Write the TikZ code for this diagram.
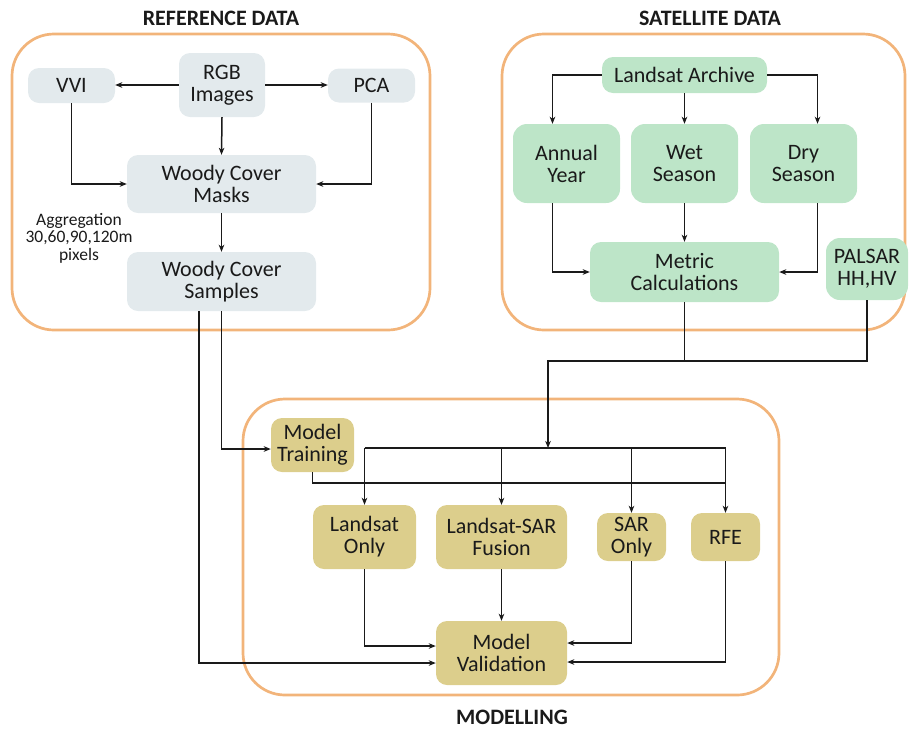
\documentclass[tikz,border=0pt]{standalone}
\usepackage{fontspec}
\setmainfont{Carlito}
\usetikzlibrary{arrows.meta}
\definecolor{frameorange}{HTML}{F2B47A}
\definecolor{refgray}{HTML}{E3EAED}
\definecolor{satgreen}{HTML}{BDE5C8}
\definecolor{modgold}{HTML}{DCCE8C}
\definecolor{ink}{HTML}{1A1A1A}

\begin{document}
\begin{tikzpicture}[x=1pt,y=-1pt,
  box/.style={rectangle, rounded corners=11pt, inner sep=0pt, align=center,
              text=ink, font=\fontsize{22}{22}\selectfont},
  refbox/.style={box, fill=refgray},
  satbox/.style={box, fill=satgreen},
  modbox/.style={box, fill=modgold},
  frame/.style={draw=frameorange, line width=2.7pt, rounded corners=42pt},
  title/.style={font=\bfseries\fontsize{22}{22}\selectfont, text=ink},
  link/.style={draw=ink, line width=1.5pt},
  arr/.style={link, -{Stealth[length=7pt,width=5.5pt,inset=2pt]}},
]
\useasboundingbox (0,0) rectangle (909,729);

% group frames and their titles
\draw[frame] (12,34) rectangle (430,330);
\draw[frame] (502,34) rectangle (905,330);
\draw[frame] (243,399) rectangle (779,695);
\node[title] (reftitle) at (221,18) {REFERENCE DATA};
\node[title] (sattitle) at (710,18) {SATELLITE DATA};
\node[title] (modtitle) at (512,717) {MODELLING};

% reference data
\node[refbox, minimum width=87pt, minimum height=35pt] (vvi) at (71.5,85.5) {VVI};
\node[refbox, minimum width=86pt, minimum height=64pt] (rgb) at (222,85) {RGB\\Images};
\node[refbox, minimum width=87pt, minimum height=34pt] (pca) at (371.5,85.5) {PCA};
\node[refbox, minimum width=189pt, minimum height=58pt] (masks) at (221.5,184) {Woody Cover\\Masks};
\node[refbox, minimum width=189pt, minimum height=59pt] (samples) at (221.5,281.5) {Woody Cover\\Samples};
\node[align=center, text=ink, inner sep=0pt, font=\fontsize{17.5}{17.5}\selectfont] (aggr) at (79,238)
  {Aggregation\\30,60,90,120m\\pixels};

% satellite data
\node[satbox, minimum width=165pt, minimum height=36pt] (archive) at (684.5,75) {Landsat Archive};
\node[satbox, rounded corners=14pt, minimum width=107pt, minimum height=79pt] (annual) at (566.5,163.5) {Annual\\Year};
\node[satbox, rounded corners=14pt, minimum width=107pt, minimum height=79pt] (wet) at (684.5,163.5) {Wet\\Season};
\node[satbox, rounded corners=14pt, minimum width=107pt, minimum height=79pt] (dry) at (803.5,163.5) {Dry\\Season};
\node[satbox, minimum width=189pt, minimum height=60pt] (metric) at (684.5,272) {Metric\\Calculations};
\node[satbox, rounded corners=14pt, minimum width=82pt, minimum height=62pt] (palsar) at (867,269) {PALSAR\\HH,HV};

% modelling
\node[modbox, minimum width=83pt, minimum height=54pt] (training) at (312.5,445) {Model\\Training};
\node[modbox, minimum width=103pt, minimum height=64pt] (lonly) at (364.5,537) {Landsat\\Only};
\node[modbox, minimum width=131pt, minimum height=64pt] (fusion) at (501.5,537) {Landsat-SAR\\Fusion};
\node[modbox, minimum width=69pt, minimum height=48pt] (saronly) at (631.5,537) {SAR\\Only};
\node[modbox, minimum width=69pt, minimum height=48pt] (rfe) at (725.5,537) {RFE};
\node[modbox, minimum width=131pt, minimum height=64pt] (valid) at (501.5,653) {Model\\Validation};

% reference data connectors
\draw[arr] (rgb.west) -- (rgb.west -| vvi.east);
\draw[arr] (rgb.east) -- (rgb.east -| pca.west);
\draw[arr] (rgb.south) -- (masks.north);
\draw[arr] (vvi.south) |- (masks.west);
\draw[arr] (pca.south) |- (masks.east);
\draw[arr] (masks.south) -- (samples.north);

% satellite data connectors
\draw[arr] (archive.west) -| ([xshift=-14pt]annual.north);
\draw[arr] (archive.east) -| ([xshift=14pt]dry.north);
\draw[arr] (archive.south) -- (wet.north);
\draw[arr] ([xshift=-14pt]annual.south) |- (metric.west);
\draw[arr] ([xshift=14pt]dry.south) |- (metric.east);
\draw[arr] (wet.south) -- (metric.north);

% satellite inputs merge and feed the model bus
\coordinate (split) at (548,361);
\coordinate (bus) at (548,448);
\draw[link] (metric.south) -- (metric.south |- split);
\draw[arr] (palsar.south) |- (split) -- (bus);
\draw[link] (bus -| lonly.north) -- (bus -| rfe.north);
\draw[arr] (bus -| lonly.north) -- (lonly.north);
\draw[arr] (bus -| fusion.north) -- (fusion.north);
\draw[arr] (bus -| saronly.north) -- (saronly.north);
\draw[arr] (bus -| rfe.north) -- (rfe.north);

% training output bus
\path (training.south) ++(0,11) coordinate (tbus);
\draw[link] (training.south) -- (tbus) -- (tbus -| rfe.north);

% samples to training and validation
\draw[arr] (samples.south) |- ([yshift=-4pt]training.west);
\draw[arr] ([xshift=-22.5pt]samples.south) |- ([yshift=-10pt]valid.west);

% model outputs to validation
\draw[arr] (lonly.south) |- ([yshift=7pt]valid.west);
\draw[arr] (fusion.south) -- (valid.north);
\draw[arr] (saronly.south) |- ([yshift=10pt]valid.east);
\draw[arr] (rfe.south) |- ([yshift=-9pt]valid.east);
\end{tikzpicture}
\end{document}
